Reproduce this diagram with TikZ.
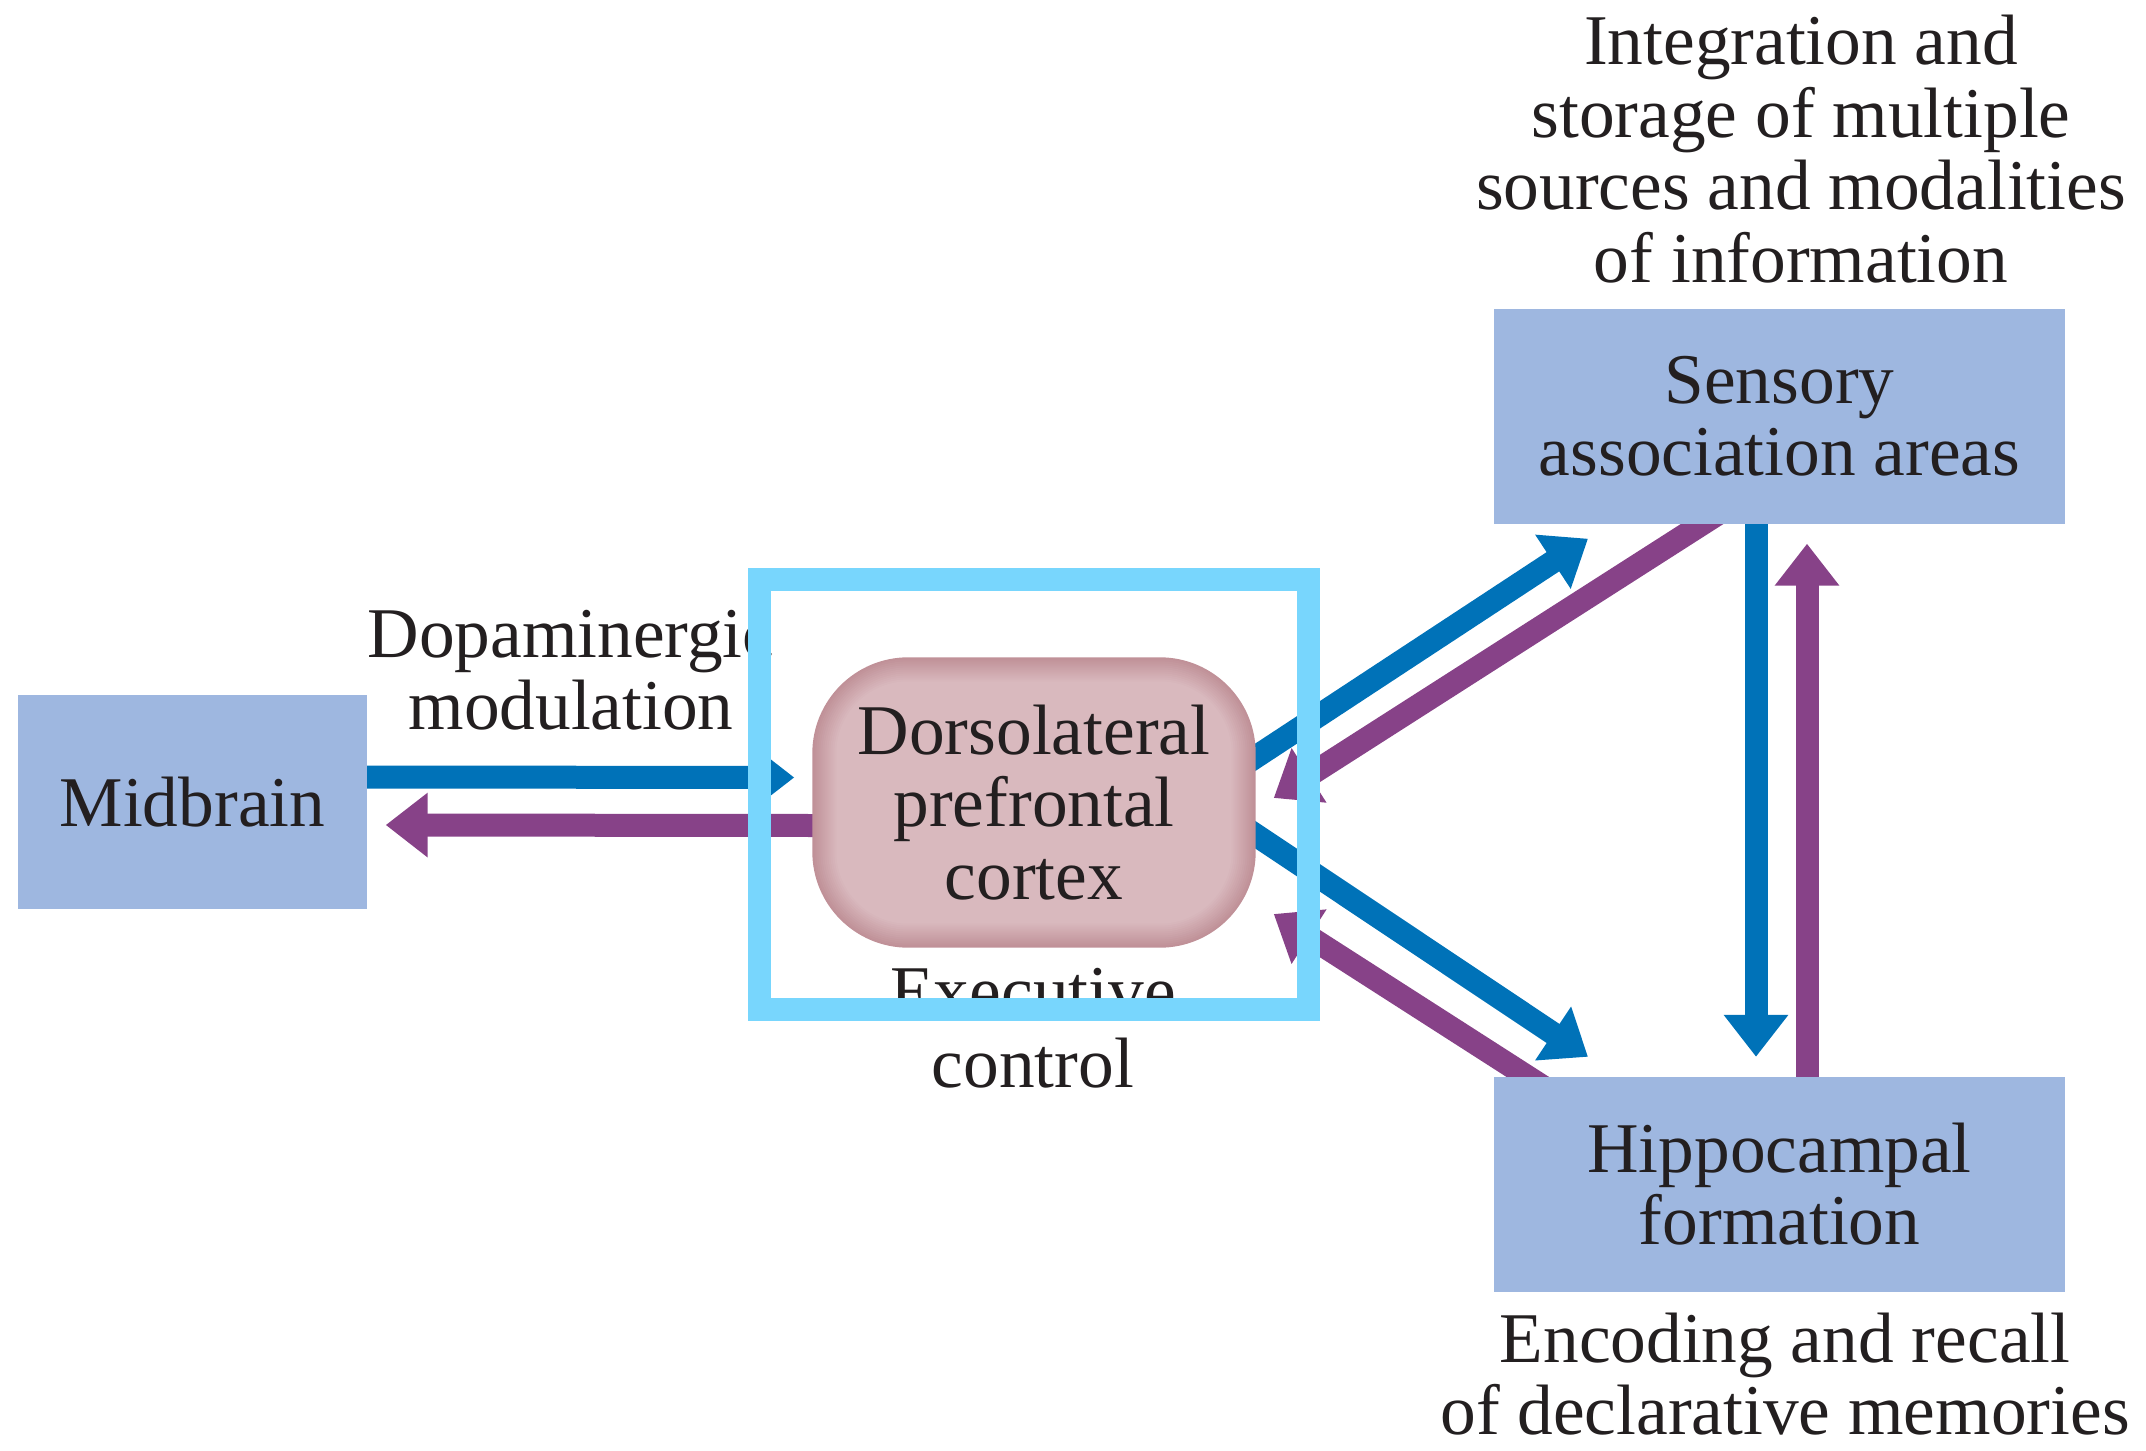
\documentclass[tikz,border=0pt]{standalone}
\usepackage{fontspec}
\setmainfont{Liberation Serif}
\usetikzlibrary{arrows.meta,calc}

\definecolor{boxblue}{RGB}{158,183,224}
\definecolor{arrblue}{RGB}{0,114,184}
\definecolor{arrpurple}{RGB}{135,66,136}
\definecolor{hilite}{RGB}{120,214,253}
\definecolor{dlinner}{RGB}{217,185,190}
\definecolor{dledge}{RGB}{192,145,152}
\definecolor{txt}{RGB}{35,31,32}

\newcommand{\lblfont}{\fontsize{20.3}{20.6}\selectfont}

\pgfdeclarelayer{arrowlayer}
\pgfdeclarelayer{shadelayer}
\pgfsetlayers{arrowlayer,shadelayer,main}

\tikzset{
  areabox/.style={fill=boxblue, minimum width=57.1mm, minimum height=21.5mm,
    inner sep=0pt, align=center, font=\lblfont, text=txt},
  dlbox/.style={rectangle, rounded corners=9.6mm, minimum width=44.2mm,
    minimum height=28.9mm, inner sep=0pt, align=center, font=\lblfont, text=txt},
  note/.style={align=center, font=\lblfont, text=txt, inner sep=0pt},
  fwd/.style={draw=arrblue, line width=2.3mm,
    -{Triangle[length=4.2mm,width=6.2mm]}, shorten <=-4mm},
  feedback/.style={draw=arrpurple, line width=2.3mm,
    -{Triangle[length=4.2mm,width=6.2mm]}, shorten <=-4mm}
}

\begin{document}
\begin{tikzpicture}[x=0.1mm, y=-0.1mm]
    \useasboundingbox (0,0) rectangle (2146,1451);

    % Regions
    \node[areabox, minimum width=34.9mm, minimum height=21.4mm] (mid) at (192.5,802) {Midbrain};
    \node[areabox] (sens) at (1779.5,416.5) {Sensory\\association areas};
    \node[areabox] (hippo) at (1779.5,1184) {Hippocampal\\formation};
    \node[dlbox] (dlpfc) at (1034,802.5) {Dorsolateral\\prefrontal\\cortex};

    % soft edge of the prefrontal box
    \begin{pgfonlayer}{shadelayer}
    \foreach \i in {0,...,12} {
        \pgfmathsetmacro{\rad}{9.6-0.2*\i}
        \pgfmathsetmacro{\edgepct}{100-\i*100/12}
        \fill[dledge!\edgepct!dlinner, rounded corners=\rad mm]
            ($(dlpfc.north west)+(2*\i,2*\i)$) rectangle ($(dlpfc.south east)-(2*\i,2*\i)$);
    }
    \end{pgfonlayer}

    % Connections
    \begin{pgfonlayer}{arrowlayer}
    \draw[fwd] ([yshift=2.5mm]mid.east) -- ([xshift=-1.8mm,yshift=2.5mm]dlpfc.west);
    \draw[feedback] ([yshift=-2.3mm]dlpfc.west) -- ([xshift=1.8mm,yshift=-2.3mm]mid.east);

    \draw[fwd] ([yshift=4.55mm]dlpfc.east) -- ([xshift=-19.15mm,yshift=-1.4mm]sens.south);
    \draw[feedback] ([xshift=-7.85mm]sens.south) -- ([xshift=1.8mm,yshift=0.45mm]dlpfc.east);

    \draw[fwd] ([yshift=-3.25mm]dlpfc.east) -- ([xshift=-19.15mm,yshift=1.9mm]hippo.north);
    \draw[feedback] ([xshift=-25.35mm]hippo.north) -- ([xshift=1.8mm,yshift=-11.15mm]dlpfc.east);

    \draw[fwd] ([xshift=-2.35mm]sens.south) -- ([xshift=-2.35mm,yshift=1.9mm]hippo.north);
    \draw[feedback] ([xshift=2.75mm]hippo.north) -- ([xshift=2.75mm,yshift=-1.9mm]sens.south);
    \end{pgfonlayer}

    % Functions
    \node[note] (integ) at (1801,149) {Integration and\\storage of multiple\\sources and modalities\\of information};
    \node[note] (encode) at (1785,1374) {Encoding and recall\\of declarative memories};
    \node[note] (dopa) at (571,670) {Dopaminergic\\modulation};
    \node[note] (exec) at (1033,1028) {Executive\\control};

    % highlight frame
    \node[draw=hilite, line width=2.3mm, minimum width=54.9mm, minimum height=43mm,
        inner sep=0pt] (focus) at ([yshift=0.8mm]dlpfc.center) {};
\end{tikzpicture}
\end{document}
